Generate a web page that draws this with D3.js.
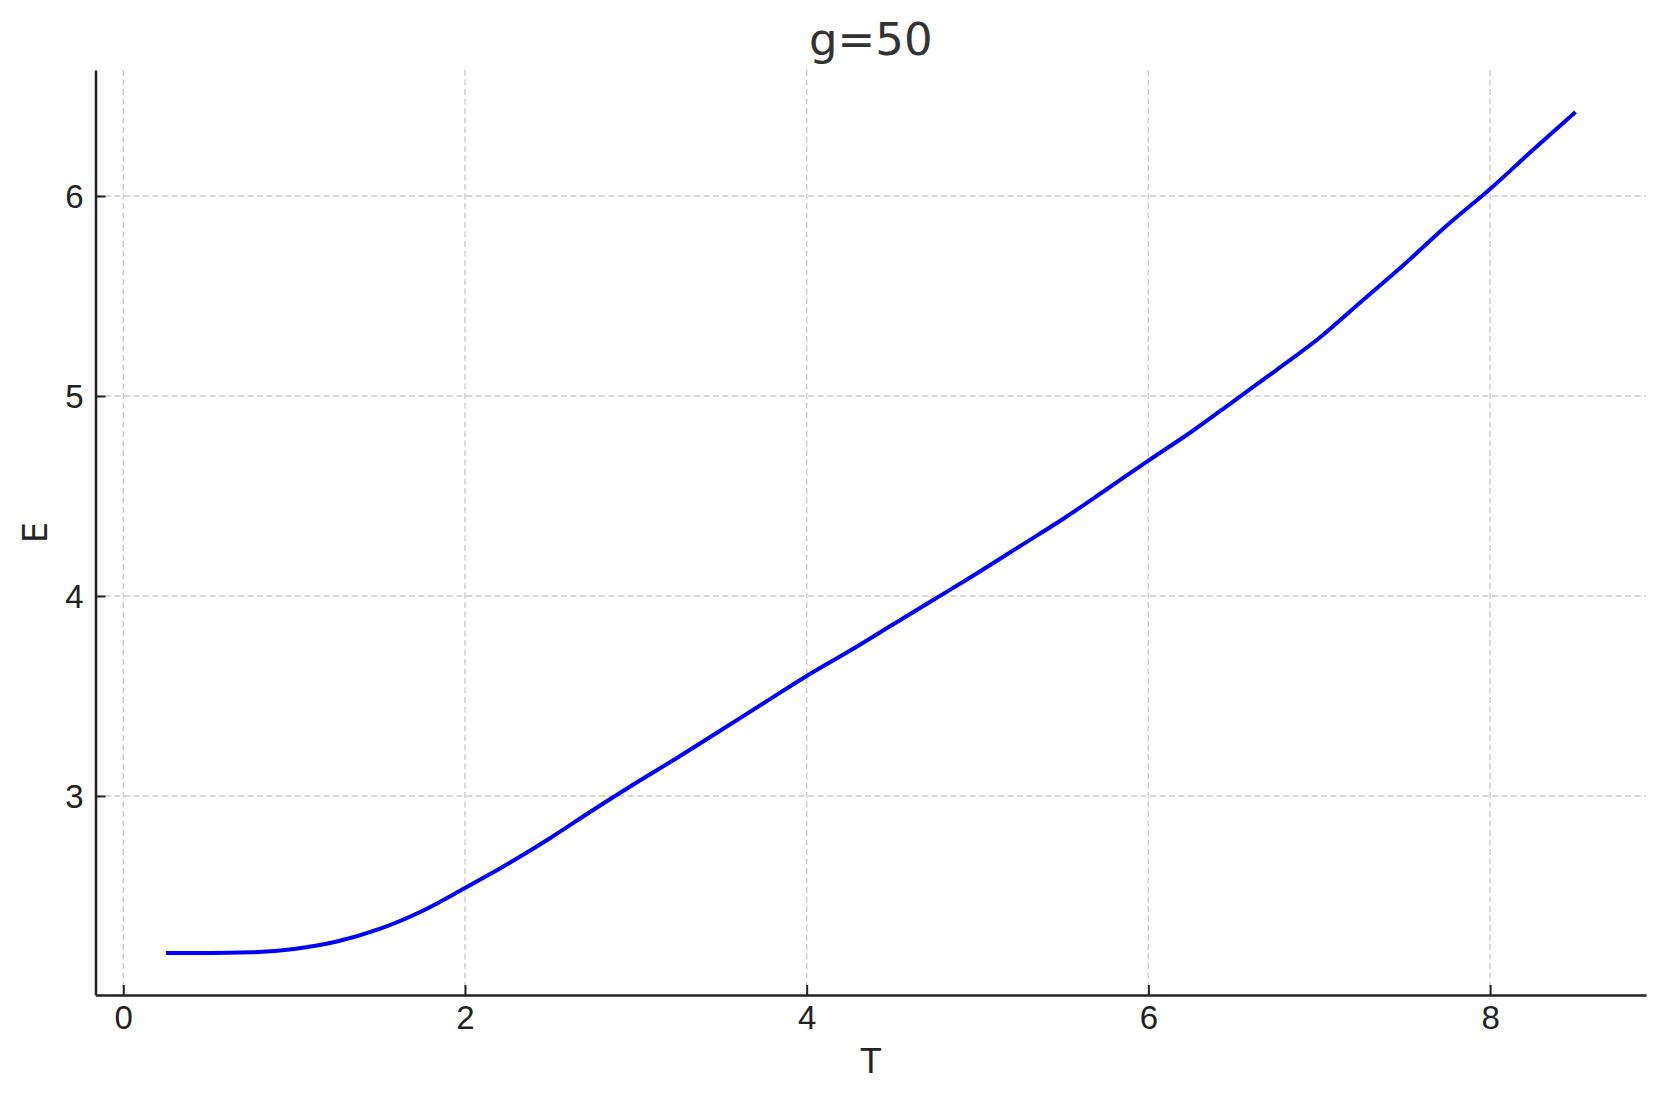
<!DOCTYPE html>
<html>
<head>
<meta charset="utf-8">
<script src="https://cdn.jsdelivr.net/npm/d3@7"></script>
<style>
  body { margin: 0; background: #fff; }
  svg { display: block; font-family: "DejaVu Sans", sans-serif; }
  .grid line { stroke: #cccccc; stroke-width: 1.4px; stroke-dasharray: 6 3.5; }
  .axis path, .axis line { stroke: #222222; }
  .axis text { fill: #222222; font-size: 33px; }
</style>
</head>
<body>
<div id="chart"></div>
<script>
// temperature values T
const temps = [0.25, 0.5, 0.75, 1.0, 1.25, 1.5, 1.75, 2.0, 2.25, 2.5, 2.75, 3.0,
    3.25, 3.5, 3.75, 4.0, 4.25, 4.5, 4.75, 5.0, 5.25, 5.5, 5.75, 6.0,
    6.25, 6.5, 6.75, 7.0, 7.25, 7.5, 7.75, 8.0, 8.25, 8.5];
// energy E
const energies = [2.215, 2.215, 2.218, 2.235, 2.272, 2.335, 2.425, 2.54, 2.66, 2.79, 2.93, 3.065,
    3.195, 3.33, 3.465, 3.60, 3.725, 3.855, 3.985, 4.115, 4.25, 4.385, 4.53, 4.677,
    4.82, 4.975, 5.13, 5.29, 5.475, 5.66, 5.855, 6.035, 6.23, 6.42];
const xTicks = [0, 2, 4, 6, 8];
const yTicks = [3, 4, 5, 6];
const title = 'g=50';
const xLabel = 'T';
const yLabel = 'E';

const width = 1665;
const height = 1101;
const margin = {left: 95.5, right: 19, top: 70, bottom: 106};

const points = temps.map((t, i) => ({t: t, e: energies[i]}));

// matplotlib style 5% padding around data
const xPad = (d3.max(temps) - d3.min(temps)) * 0.05;
const yPad = (d3.max(energies) - d3.min(energies)) * 0.05;

const x = d3.scaleLinear()
    .domain([d3.min(temps) - xPad, d3.max(temps) + xPad])
    .range([margin.left, width - margin.right]);
const y = d3.scaleLinear()
    .domain([d3.min(energies) - yPad, d3.max(energies) + yPad])
    .range([height - margin.bottom, margin.top]);

const svg = d3.select('#chart').append('svg')
    .attr('width', width)
    .attr('height', height);

// grid
const grid = svg.append('g').attr('class', 'grid');
grid.selectAll('.gx').data(xTicks).enter().append('line')
    .attr('x1', d => x(d)).attr('x2', d => x(d))
    .attr('y1', margin.top).attr('y2', height - margin.bottom);
grid.selectAll('.gy').data(yTicks).enter().append('line')
    .attr('x1', margin.left).attr('x2', width - margin.right)
    .attr('y1', d => y(d)).attr('y2', d => y(d));

// curve
const line = d3.line()
    .x(d => x(d.t))
    .y(d => y(d.e))
    .curve(d3.curveMonotoneX);

svg.append('path')
    .datum(points)
    .attr('fill', 'none')
    .attr('stroke', '#0000ff')
    .attr('stroke-width', 4)
    .attr('stroke-linejoin', 'round')
    .attr('d', line);

// axes, ticks pointing inward
const xAxis = svg.append('g')
    .attr('class', 'axis')
    .attr('transform', `translate(0,${height - margin.bottom})`)
    .call(d3.axisBottom(x).tickValues(xTicks).tickSize(-10).tickSizeOuter(0).tickFormat(d3.format('d')));
xAxis.select('.domain').attr('stroke-width', 2.5);
xAxis.selectAll('.tick line').attr('stroke-width', 2);
xAxis.selectAll('.tick text').attr('y', 34).attr('dy', 0);

const yAxis = svg.append('g')
    .attr('class', 'axis')
    .attr('transform', `translate(${margin.left},0)`)
    .call(d3.axisLeft(y).tickValues(yTicks).tickSize(-10).tickSizeOuter(0).tickFormat(d3.format('d')));
yAxis.select('.domain').attr('stroke-width', 2.5);
yAxis.selectAll('.tick line').attr('stroke-width', 2);
yAxis.selectAll('.tick text').attr('x', -12).attr('dy', '0.36em');

// labels
svg.append('text')
    .attr('x', (margin.left + width - margin.right) / 2)
    .attr('y', 55)
    .attr('text-anchor', 'middle')
    .attr('fill', '#333333')
    .attr('font-size', 45)
    .text(title);

svg.append('text')
    .attr('x', (margin.left + width - margin.right) / 2)
    .attr('y', 1073)
    .attr('text-anchor', 'middle')
    .attr('fill', '#222222')
    .attr('font-size', 33)
    .text(xLabel);

svg.append('text')
    .attr('transform', `translate(47,${(margin.top + height - margin.bottom) / 2}) rotate(-90)`)
    .attr('text-anchor', 'middle')
    .attr('fill', '#222222')
    .attr('font-size', 33)
    .text(yLabel);
</script>
</body>
</html>
